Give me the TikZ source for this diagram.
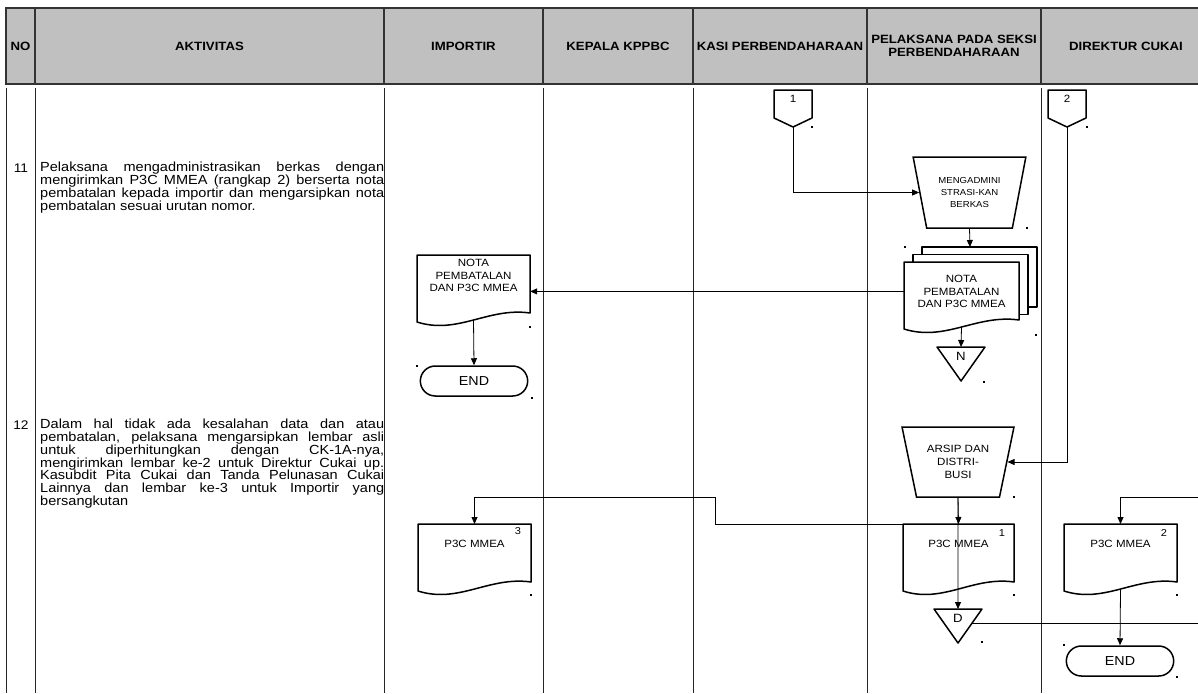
\documentclass[tikz,border=0pt]{standalone}
\usepackage{fontspec}
\setmainfont[FakeStretch=1.1]{Liberation Sans}
\usetikzlibrary{calc,shapes.geometric,shapes.misc,arrows.meta}
\definecolor{headgray}{RGB}{192,192,192}

\tikzset{
  headline/.style={draw=black!80, line width=1.2pt},
  headcell/.style={font=\fontsize{12}{13}\selectfont\bfseries, align=center},
  lane/.style={draw=black!85, line width=0.9pt},
  shapeline/.style={draw=black, line width=1.5pt, fill=white, line join=round},
  flow/.style={draw=black, line width=0.8pt, -{Triangle[length=7pt,width=6pt]}},
  manualop/.style={trapezium, trapezium stretches=true, shape border rotate=180,
    trapezium angle=72, minimum width=113pt, minimum height=71pt, inner sep=0pt,
    draw, line width=1.5pt, fill=white, align=center},
  endbox/.style={rounded rectangle, draw, line width=1.5pt, fill=white,
    minimum width=114pt, minimum height=30pt, font=\fontsize{13}{14}\selectfont},
  doctext/.style={anchor=north, align=center, inner xsep=0pt, font=\fontsize{10.5}{12.5}\selectfont},
  copyno/.style={font=\fontsize{10}{11}\selectfont, inner sep=0pt},
  linktext/.style={font=\fontsize{10.5}{11}\selectfont, inner sep=0pt},
  tritext/.style={font=\fontsize{12}{13}\selectfont, inner sep=0pt},
  stepno/.style={font=\fontsize{12.5}{12.8}\selectfont, inner sep=0pt},
  steptext/.style={anchor=north west, text width=344pt, align=justify, inner sep=0pt,
    font=\fontsize{13.2}{12.8}\selectfont,
    execute at begin node={\hyphenpenalty=10000\relax}},
}

% document sheet with wavy bottom
\newcommand{\docshape}[6][4]{%
  \draw[shapeline] (#3,#4+67) -- (#3,#4) -- (#3+#5,#4) -- (#3+#5,#4+58)
    .. controls (#3+0.63*#5,#4+52) and (#3+0.36*#5,#4+80) .. (#3,#4+67) -- cycle;
  \node[doctext, minimum width=#5pt, inner ysep=#1pt] (#2) at (#3+#5/2,#4) {#6};
  \coordinate (#2 wave) at (#3+#5/2,#4+65);
}
% off-page connector
\newcommand{\pagelink}[3]{%
  \draw[shapeline] (#2-19,90) -- (#2+19,90) -- (#2+19,118) -- (#2,127) -- (#2-19,118) -- cycle;
  \node[linktext] (#1) at (#2,99) {#3};
  \coordinate (#1 tip) at (#2,127);
}
% offline storage triangle
\newcommand{\storetri}[4]{%
  \draw[shapeline] (#2-24,#3) -- (#2+24,#3) -- (#2,#3+34) -- cycle;
  \node[tritext] (#1) at (#2,#3+9) {#4};
  \coordinate (#1 top) at (#2,#3);
  \coordinate (#1 side) at (#2+14,#3+14);
}

\begin{document}
\begin{tikzpicture}[x=1pt,y=-1pt]
    \useasboundingbox (0,0) rectangle (1198,693);

    % header row
    \draw[headline, fill=headgray] (6,8) rectangle (1215,84);
    \foreach \x in {35,384,543,693,867,1041}
        \draw[headline] (\x,8) -- (\x,84);
    \foreach \x/\lbl [count=\i] in {20.5/NO, 209.5/AKTIVITAS, 463.5/IMPORTIR,
        618/KEPALA KPPBC, 780/KASI PERBENDAHARAAN,
        954/{PELAKSANA PADA SEKSI\\PERBENDAHARAAN}, 1126/DIREKTUR CUKAI}
        \node[headcell] (head\i) at (\x,46) {\lbl};

    % swimlanes
    \foreach \x in {6,35,384,543,693,867,1041}
        \draw[lane] (\x,88) -- (\x,693);

    % activities
    \node[stepno] (noSebelas) at (21,168) {11};
    \node[steptext] (stepSebelas) at (40,162) {Pelaksana mengadministrasikan berkas dengan\linebreak
        mengirimkan P3C MMEA (rangkap 2) berserta nota\linebreak
        pembatalan kepada importir dan mengarsipkan nota\linebreak
        pembatalan sesuai urutan nomor.};
    \node[stepno] (noDuabelas) at (21,425) {12};
    \node[steptext] (stepDuabelas) at (40,419) {Dalam hal tidak ada kesalahan data dan atau\linebreak
        pembatalan, pelaksana mengarsipkan lembar asli\linebreak
        untuk diperhitungkan dengan CK-1A-nya,\linebreak
        mengirimkan lembar ke-2 untuk Direktur Cukai up.\linebreak
        Kasubdit Pita Cukai dan Tanda Pelunasan Cukai\linebreak
        Lainnya dan lembar ke-3 untuk Importir yang\linebreak
        bersangkutan};

    % step 11
    \pagelink{linkSatu}{793}{1}
    \pagelink{linkDua}{1067}{2}
    \node[manualop, font=\fontsize{8.7}{12}\selectfont] (admin) at (969.5,192.5)
        {MENGADMINI\\STRASI-KAN\\BERKAS};
    \foreach \d in {2,1}
        \draw[shapeline] (904+9*\d,262-7.5*\d) rectangle (1019+9*\d,322-7.5*\d);
    \coordinate (stackTop) at (970,247);
    \docshape[13]{notaPel}{904}{262}{115}{NOTA\\PEMBATALAN\\DAN P3C MMEA}
    \storetri{triN}{961}{347}{N}
    \docshape[4]{notaImp}{417}{255}{113}{NOTA\\PEMBATALAN\\DAN P3C MMEA}
    \node[endbox] (endImp) at (474,381) {END};

    % step 12
    \node[manualop, minimum width=112pt, minimum height=70pt, font=\fontsize{10.5}{13}\selectfont]
        (arsip) at (958,462) {ARSIP DAN\\DISTRI-\\BUSI};
    \docshape[16]{arsipSatu}{903}{524}{111}{P3C MMEA}
    \node[copyno] (noSatu) at (1002,533) {1};
    \docshape[16]{arsipDua}{1064}{524}{113}{P3C MMEA}
    \node[copyno] (noDua) at (1164,533) {2};
    \docshape[16]{arsipTiga}{418}{524}{113}{P3C MMEA}
    \node[copyno] (noTiga) at (518,531) {3};
    \storetri{triD}{958}{609}{D}
    \node[endbox] (endDir) at (1120,661) {END};
    \coordinate (jog) at (715,497);
    \coordinate (exitD) at (1215,623);
    \coordinate (loopTop) at (1215,497);

    % connectors
    \draw[flow] (linkSatu tip) |- (admin.west);
    \draw[flow] (admin.south) -- (stackTop);
    \draw[flow] (notaPel.west) -- (notaPel.west -| notaImp.east);
    \draw[flow] (notaPel wave) -- (triN top);
    \draw[flow] (notaImp wave) -- (endImp.north);
    \draw[flow] (linkDua tip) |- (arsip.east);
    \draw[flow] (arsip.south) -- (arsipSatu.north);
    \draw[flow] (arsip.south) -- (triD top);
    \draw[flow] (arsipSatu.north west) -| (jog) -| (arsipTiga.north);
    \draw[flow] (triD side) -- (exitD) -- (loopTop) -| (arsipDua.north);
    \draw[flow] (arsipDua wave) -- (endDir.north);

    % stray text marks
    \foreach \px/\py in {812/127, 1087/127, 1027/228, 905/247, 1036/335, 984/382,
        530/327, 417/366, 532/398, 1014/497, 1014/595, 982/642, 1177/595,
        1064/645, 1177/677, 531/595}
        \fill (\px-0.8,\py-0.8) rectangle (\px+0.8,\py+0.8);
\end{tikzpicture}
\end{document}
